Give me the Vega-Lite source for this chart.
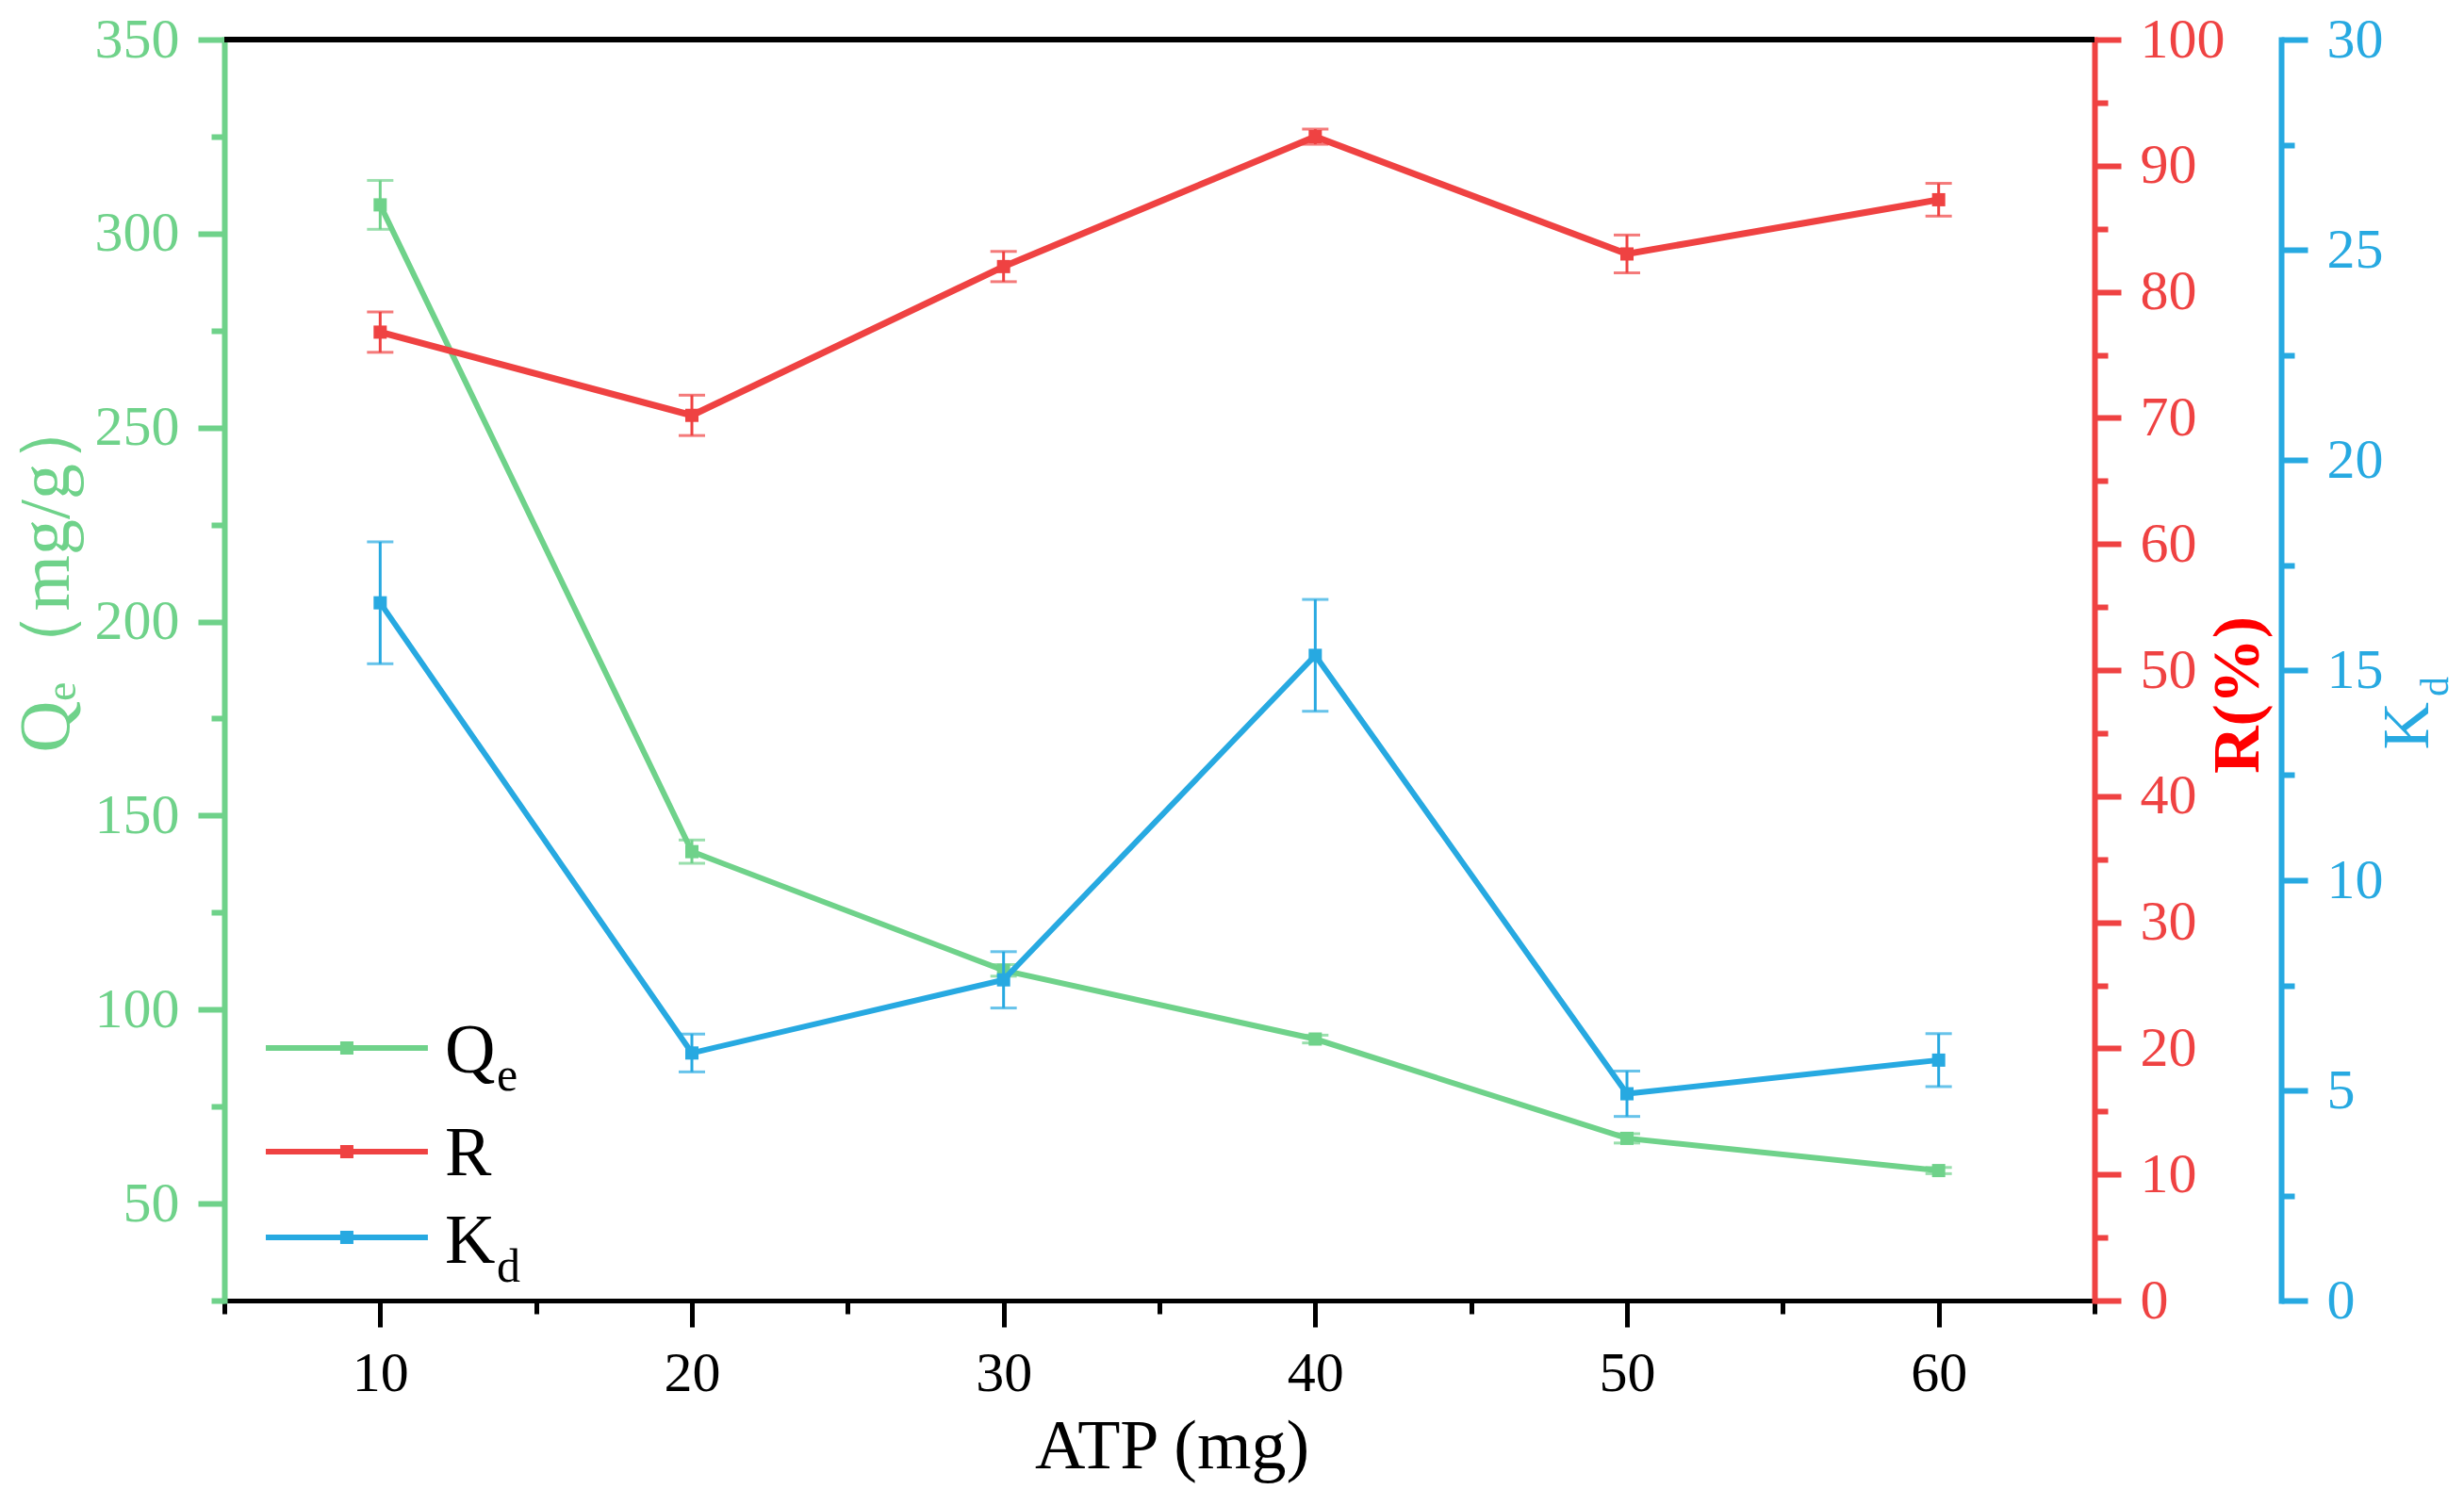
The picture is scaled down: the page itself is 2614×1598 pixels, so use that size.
{
  "$schema": "https://vega.github.io/schema/vega-lite/v6.json",
  "width": 1984,
  "height": 1338,
  "autosize": {"type": "none"},
  "padding": {"left": 238, "top": 42, "right": 392, "bottom": 218},
  "background": "white",
  "config": {
    "view": {"stroke": null},
    "font": "Liberation Serif",
    "axis": {
      "grid": false,
      "labelFont": "Liberation Serif",
      "titleFont": "Liberation Serif",
      "labelFlush": false,
      "labelOverlap": false,
      "labelBound": false,
      "titleFontWeight": "normal",
      "labelFontSize": 60,
      "domainCap": "square"
    }
  },
  "data": {
    "values": [
      {"atp": 10, "series": "Qe", "value": 307.4, "err": 6.3},
      {"atp": 20, "series": "Qe", "value": 140.7, "err": 3.0},
      {"atp": 30, "series": "Qe", "value": 110.1, "err": 1.5},
      {"atp": 40, "series": "Qe", "value": 92.4, "err": 1.0},
      {"atp": 50, "series": "Qe", "value": 66.8, "err": 1.2},
      {"atp": 60, "series": "Qe", "value": 58.5, "err": 0.8},
      {"atp": 10, "series": "R", "value": 76.8, "err": 1.6},
      {"atp": 20, "series": "R", "value": 70.2, "err": 1.6},
      {"atp": 30, "series": "R", "value": 82.0, "err": 1.2},
      {"atp": 40, "series": "R", "value": 92.3, "err": 0.6},
      {"atp": 50, "series": "R", "value": 83.0, "err": 1.5},
      {"atp": 60, "series": "R", "value": 87.3, "err": 1.3},
      {"atp": 10, "series": "Kd", "value": 16.6, "err": 1.45},
      {"atp": 20, "series": "Kd", "value": 5.89, "err": 0.45},
      {"atp": 30, "series": "Kd", "value": 7.63, "err": 0.67},
      {"atp": 40, "series": "Kd", "value": 15.35, "err": 1.33},
      {"atp": 50, "series": "Kd", "value": 4.92, "err": 0.54},
      {"atp": 60, "series": "Kd", "value": 5.72, "err": 0.63}
    ]
  },
  "encoding": {
    "x": {
      "field": "atp",
      "type": "quantitative",
      "scale": {"domain": [5, 65], "nice": false, "zero": false},
      "axis": {
        "values": [5, 10, 15, 20, 25, 30, 35, 40, 45, 50, 55, 60, 65],
        "format": "d",
        "labelExpr": "datum.value % 10 === 0 ? datum.label : ''",
        "tickSize": {"condition": {"test": "datum.value % 10 === 0", "value": 28}, "value": 14},
        "domainColor": "black",
        "domainWidth": 5,
        "tickColor": "black",
        "tickWidth": 5,
        "labelColor": "black",
        "labelPadding": 20,
        "labelBaseline": "top",
        "title": "ATP (mg)",
        "titleFontSize": 74,
        "titleColor": "black",
        "titleX": 1005,
        "titleY": 177,
        "titleAlign": "center",
        "titleBaseline": "alphabetic",
        "titleAngle": 0
      }
    }
  },
  "layer": [
    {
      "encoding": {
        "y": {
          "field": "value",
          "type": "quantitative",
          "scale": {"domain": [25, 350], "nice": false, "zero": false},
          "axis": {
            "orient": "left",
            "values": [25, 50, 75, 100, 125, 150, 175, 200, 225, 250, 275, 300, 325, 350],
            "format": "d",
            "labelExpr": "datum.value % 50 === 0 ? datum.label : ''",
            "tickSize": {"condition": {"test": "datum.value % 50 === 0", "value": 28}, "value": 14},
            "domainColor": "#6FD28A",
            "domainWidth": 6,
            "tickColor": "#6FD28A",
            "tickWidth": 6,
            "labelColor": "#6FD28A",
            "labelPadding": 20,
            "title": "Qₑ（mg/g）",
            "titleColor": "#6FD28A",
            "titleFontSize": 76,
            "titleAngle": 270,
            "titleAlign": "left",
            "titleBaseline": "alphabetic",
            "titleX": -166,
            "titleY": 756
          }
        }
      },
      "layer": [
        {
          "transform": [{"filter": "datum.series === 'Qe' && datum.atp === 10"}],
          "mark": {"type": "rule", "color": "black", "strokeWidth": 6},
          "encoding": {
            "x": {"datum": 5},
            "x2": {"datum": 65},
            "y": {"datum": 350}
          }
        },
        {
          "transform": [{"filter": "datum.series === 'Qe'"}],
          "mark": {"type": "line", "color": "#6FD28A", "strokeWidth": 6}
        },
        {
          "transform": [{"filter": "datum.series === 'Qe'"}],
          "mark": {"type": "errorbar", "color": "#6FD28A", "thickness": 3, "ticks": {"size": 28, "thickness": 3}},
          "encoding": {"yError": {"field": "err"}}
        },
        {
          "transform": [{"filter": "datum.series === 'Qe'"}],
          "mark": {"type": "point", "shape": "square", "filled": true, "opacity": 1, "size": 196, "color": "#6FD28A"}
        }
      ]
    },
    {
      "encoding": {
        "y": {
          "field": "value",
          "type": "quantitative",
          "scale": {"domain": [0, 100], "nice": false},
          "axis": {
            "orient": "right",
            "values": [0, 5, 10, 15, 20, 25, 30, 35, 40, 45, 50, 55, 60, 65, 70, 75, 80, 85, 90, 95, 100],
            "format": "d",
            "labelExpr": "datum.value % 10 === 0 ? datum.label : ''",
            "tickSize": {"condition": {"test": "datum.value % 10 === 0", "value": 28}, "value": 14},
            "domainColor": "#EF4242",
            "domainWidth": 6,
            "tickColor": "#EF4242",
            "tickWidth": 6,
            "labelColor": "#EF4242",
            "labelPadding": 20,
            "title": "R(%)",
            "titleColor": "#FF0000",
            "titleFontWeight": "bold",
            "titleFontSize": 70,
            "titleAngle": 270,
            "titleAlign": "center",
            "titleBaseline": "alphabetic",
            "titleX": 173,
            "titleY": 695
          }
        }
      },
      "layer": [
        {
          "transform": [{"filter": "datum.series === 'R'"}],
          "mark": {"type": "line", "color": "#EF4242", "strokeWidth": 7}
        },
        {
          "transform": [{"filter": "datum.series === 'R'"}],
          "mark": {"type": "errorbar", "color": "#EF4242", "thickness": 3, "ticks": {"size": 28, "thickness": 3}},
          "encoding": {"yError": {"field": "err"}}
        },
        {
          "transform": [{"filter": "datum.series === 'R'"}],
          "mark": {"type": "point", "shape": "square", "filled": true, "opacity": 1, "size": 196, "color": "#EF4242"}
        },
        {
          "transform": [{"filter": "datum.series === 'R' && datum.atp === 10"}],
          "layer": [
            {
              "mark": {"type": "rule", "color": "#6FD28A", "strokeWidth": 6},
              "encoding": {"x": {"datum": 6.33}, "x2": {"datum": 11.53}, "y": {"datum": 20.03}}
            },
            {
              "mark": {"type": "point", "shape": "square", "filled": true, "opacity": 1, "size": 196, "color": "#6FD28A"},
              "encoding": {"x": {"datum": 8.93}, "y": {"datum": 20.03}}
            },
            {
              "mark": {"type": "rule", "color": "#EF4242", "strokeWidth": 6},
              "encoding": {"x": {"datum": 6.33}, "x2": {"datum": 11.53}, "y": {"datum": 11.81}}
            },
            {
              "mark": {"type": "point", "shape": "square", "filled": true, "opacity": 1, "size": 196, "color": "#EF4242"},
              "encoding": {"x": {"datum": 8.93}, "y": {"datum": 11.81}}
            },
            {
              "mark": {"type": "rule", "color": "#27A9E1", "strokeWidth": 6},
              "encoding": {"x": {"datum": 6.33}, "x2": {"datum": 11.53}, "y": {"datum": 5.01}}
            },
            {
              "mark": {"type": "point", "shape": "square", "filled": true, "opacity": 1, "size": 196, "color": "#27A9E1"},
              "encoding": {"x": {"datum": 8.93}, "y": {"datum": 5.01}}
            },
            {
              "mark": {"type": "text", "text": "Q", "font": "Liberation Serif", "fontSize": 74, "color": "black", "align": "left", "baseline": "alphabetic"},
              "encoding": {"x": {"datum": 12.08}, "y": {"datum": 18.09}}
            },
            {
              "mark": {"type": "text", "text": "e", "font": "Liberation Serif", "fontSize": 50, "color": "black", "align": "left", "baseline": "alphabetic"},
              "encoding": {"x": {"datum": 13.74}, "y": {"datum": 16.67}}
            },
            {
              "mark": {"type": "text", "text": "R", "font": "Liberation Serif", "fontSize": 74, "color": "black", "align": "left", "baseline": "alphabetic"},
              "encoding": {"x": {"datum": 12.08}, "y": {"datum": 9.94}}
            },
            {
              "mark": {"type": "text", "text": "K", "font": "Liberation Serif", "fontSize": 74, "color": "black", "align": "left", "baseline": "alphabetic"},
              "encoding": {"x": {"datum": 12.08}, "y": {"datum": 2.99}}
            },
            {
              "mark": {"type": "text", "text": "d", "font": "Liberation Serif", "fontSize": 50, "color": "black", "align": "left", "baseline": "alphabetic"},
              "encoding": {"x": {"datum": 13.74}, "y": {"datum": 1.49}}
            }
          ]
        }
      ]
    },
    {
      "encoding": {
        "y": {
          "field": "value",
          "type": "quantitative",
          "scale": {"domain": [0, 30], "nice": false},
          "axis": {
            "orient": "right",
            "offset": 198,
            "values": [0, 2.5, 5, 7.5, 10, 12.5, 15, 17.5, 20, 22.5, 25, 27.5, 30],
            "format": "d",
            "labelExpr": "datum.value % 5 === 0 ? datum.label : ''",
            "tickSize": {"condition": {"test": "datum.value % 5 === 0", "value": 28}, "value": 14},
            "domainColor": "#27A9E1",
            "domainWidth": 6,
            "tickColor": "#27A9E1",
            "tickWidth": 6,
            "labelColor": "#27A9E1",
            "labelPadding": 20,
            "title": "K",
            "titleColor": "#27A9E1",
            "titleFontSize": 70,
            "titleAngle": 270,
            "titleAlign": "left",
            "titleBaseline": "alphabetic",
            "titleX": 155,
            "titleY": 753
          }
        }
      },
      "layer": [
        {
          "transform": [{"filter": "datum.series === 'Kd'"}],
          "mark": {"type": "line", "color": "#27A9E1", "strokeWidth": 6}
        },
        {
          "transform": [{"filter": "datum.series === 'Kd'"}],
          "mark": {"type": "errorbar", "color": "#27A9E1", "thickness": 3, "ticks": {"size": 28, "thickness": 3}},
          "encoding": {"yError": {"field": "err"}}
        },
        {
          "transform": [{"filter": "datum.series === 'Kd'"}],
          "mark": {"type": "point", "shape": "square", "filled": true, "opacity": 1, "size": 196, "color": "#27A9E1"}
        },
        {
          "transform": [{"filter": "datum.series === 'Kd' && datum.atp === 10"}],
          "mark": {"type": "text", "text": "d", "font": "Liberation Serif", "fontSize": 42, "color": "#27A9E1", "angle": 270, "align": "left", "baseline": "alphabetic"},
          "encoding": {"x": {"datum": 76.34}, "y": {"datum": 14.37}}
        }
      ]
    }
  ],
  "resolve": {"scale": {"y": "independent"}}
}
